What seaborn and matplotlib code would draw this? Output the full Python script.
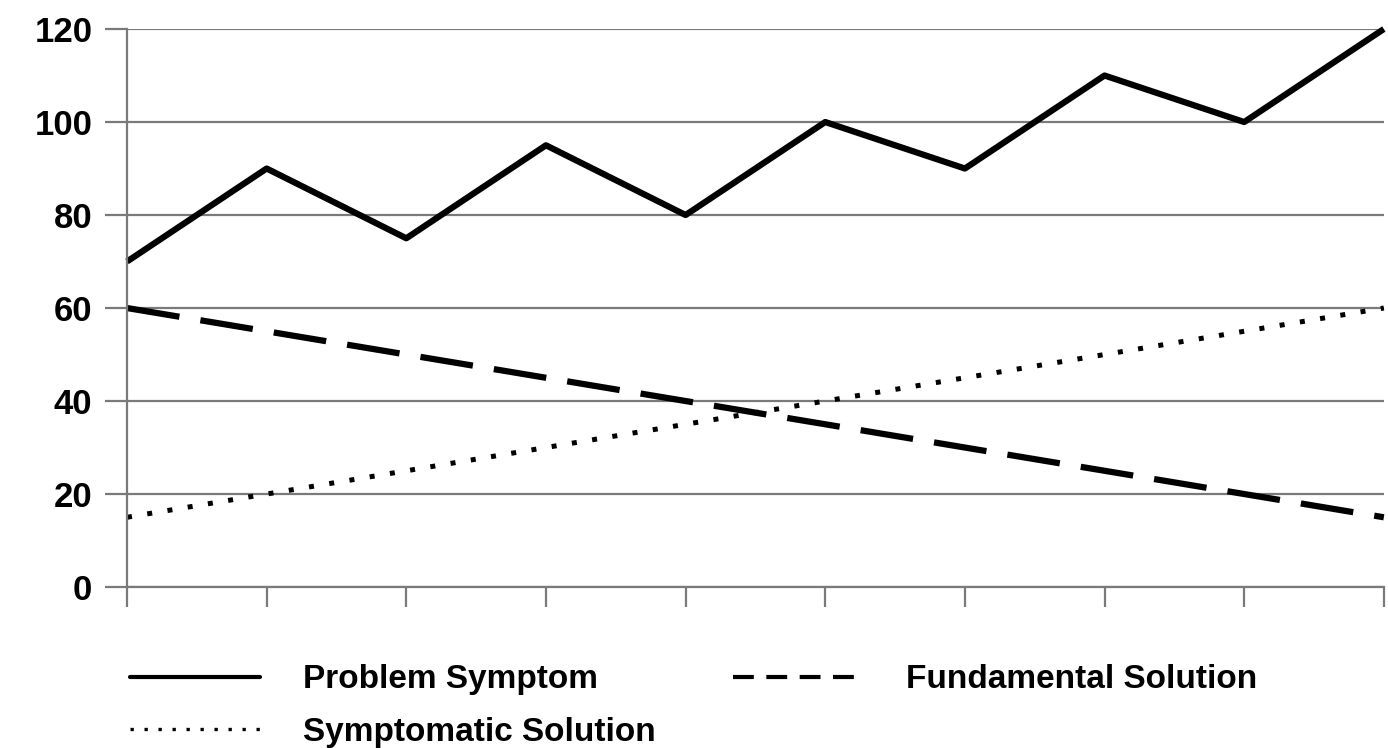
import pandas as pd
import matplotlib
matplotlib.use("Agg")
import matplotlib.pyplot as plt
from matplotlib.lines import Line2D
import seaborn as sns

# data
periods = list(range(10))
problem_symptom = [70, 90, 75, 95, 80, 100, 90, 110, 100, 120]
fundamental_solution = [60, 55, 50, 45, 40, 35, 30, 25, 20, 15]
symptomatic_solution = [15, 20, 25, 30, 35, 40, 45, 50, 55, 60]
y_ticks = [0, 20, 40, 60, 80, 100, 120]

sns.set_style("white")
plt.rcParams['font.family'] = ['Liberation Sans', 'DejaVu Sans']
plt.rcParams['font.weight'] = 'bold'
plt.rcParams['text.color'] = 'black'

fig = plt.figure(figsize=(13.88, 7.48), dpi=100)
ax = fig.add_axes([0.0915, 0.2152, 0.9055, 0.746])

grid_col = "#7a7a7a"

sns.lineplot(x=periods, y=problem_symptom, ax=ax, color="black", linewidth=4.5)
sns.lineplot(x=periods, y=fundamental_solution, ax=ax, color="black", linewidth=4.5)
sns.lineplot(x=periods, y=symptomatic_solution, ax=ax, color="black", linewidth=3.6)

lines = ax.get_lines()
lines[1].set_dashes((8.5, 3.4))
lines[2].set_dashes((1, 3.1))
for ln in lines:
    ln.set_clip_on(False)
    ln.set_solid_capstyle('butt')
    ln.set_dash_capstyle('butt')

ax.set_xlim(0, 9)
ax.set_ylim(0, 120)
ax.set_yticks(y_ticks)
ax.set_xticks(periods)
ax.set_xticklabels([])
for t in y_ticks:
    ax.axhline(t, color=grid_col, linewidth=1.6, zorder=0)

for side in ["top", "right"]:
    ax.spines[side].set_visible(False)
for side in ["left", "bottom"]:
    ax.spines[side].set_color(grid_col)
    ax.spines[side].set_linewidth(1.6)

ax.tick_params(axis="y", length=16, width=1.6, color=grid_col, pad=9,
               labelsize=25, labelcolor="black", direction="out", left=True)
ax.tick_params(axis="x", length=14.5, width=1.6, color=grid_col,
               direction="out", bottom=True)
for lab in ax.get_yticklabels():
    lab.set_fontweight("bold")

# legend, filled column-wise so the rows read like the reference
handles = [
    Line2D([], [], color="black", linewidth=3.0),
    Line2D([], [], color="black", linewidth=2.4, dashes=(1, 3.2)),
    Line2D([], [], color="black", linewidth=3.0, dashes=(5, 3)),
]
labels = ["Problem Symptom", "Symptomatic Solution", "Fundamental Solution"]
leg = fig.legend(handles, labels, loc="upper left", bbox_to_anchor=(0.072, 0.152),
                 ncol=2, frameon=False, handlelength=3.9, handletextpad=1.3,
                 columnspacing=2.3, labelspacing=0.65,
                 prop={"size": 24, "weight": "bold"})
for txt in leg.get_texts():
    txt.set_color("black")

fig.savefig("out.png", dpi=100)
